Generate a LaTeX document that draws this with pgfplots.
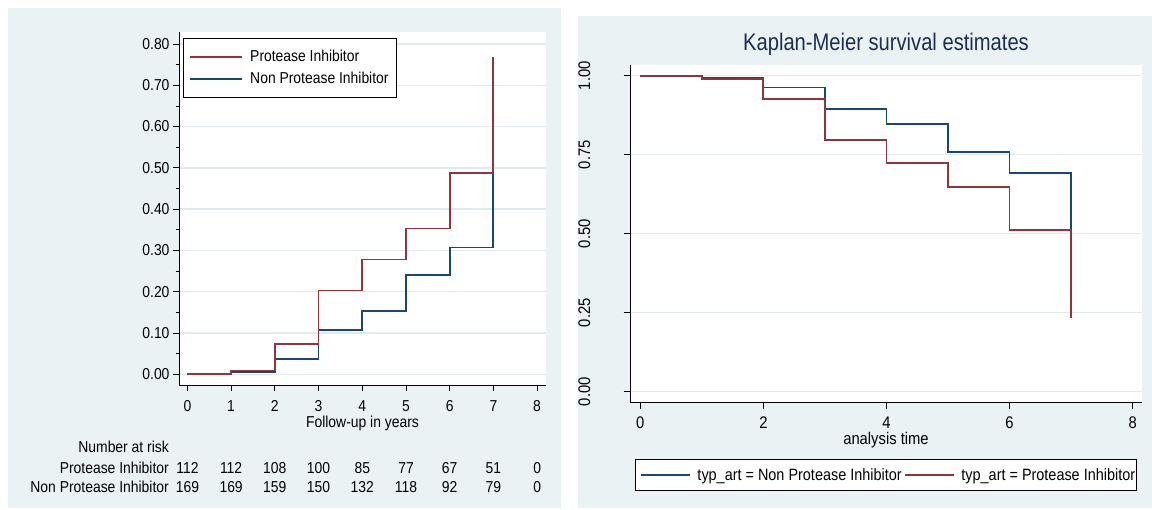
\documentclass[border=0pt]{standalone}
\usepackage{fontspec}
\setmainfont{Liberation Sans}[FakeStretch=0.88]
\newfontfamily\titlefont{Liberation Sans}[FakeStretch=0.84]
\usepackage{pgfplots}
\pgfplotsset{compat=1.18}
\definecolor{bgc}{RGB}{234,242,243}
\definecolor{gridc}{RGB}{224,234,237}
\definecolor{stnavy}{RGB}{26,71,111}
\definecolor{stmaroon}{RGB}{144,53,59}
\definecolor{ttl}{RGB}{30,45,80}
\newcommand{\lf}{\fontsize{15.8bp}{19bp}\selectfont}
\newcommand{\rf}{\fontsize{16.8bp}{20bp}\selectfont}
\newcommand{\rlf}{\fontsize{16.4bp}{20bp}\selectfont}
\begin{document}
\begin{tikzpicture}[x=1bp,y=1bp]
\useasboundingbox (0,0) rectangle (1152,-510);
\fill[white] (0,0) rectangle (1152,-510);
\fill[bgc] (8,-8) rectangle (561,-508);
\fill[bgc] (578,-16) rectangle (1152,-508);

% ---------------- left panel ----------------
\begin{axis}[
  at={(179bp,-385bp)}, anchor=south west,
  scale only axis, width=367bp, height=353bp,
  xmin=-0.192, xmax=8.204, ymin=-0.026, ymax=0.829,
  axis x line=bottom, axis y line=left,
  axis line style={black, line width=0.8bp, -},
  x axis line style={-}, y axis line style={-},
  axis background/.style={fill=white},
  xtick={0,1,2,3,4,5,6,7,8},
  ytick={0,0.1,0.2,0.3,0.4,0.5,0.6,0.7,0.8},
  minor ytick={0.05,0.15,0.25,0.35,0.45,0.55,0.65,0.75},
  tick align=outside, major tick length=6bp, minor tick length=3.5bp,
  every tick/.style={black, line width=0.8bp},
  ymajorgrids, major grid style={gridc, line width=1.5bp},
  /pgf/number format/assume math mode=true,
  yticklabel style={/pgf/number format/fixed, /pgf/number format/fixed zerofill, /pgf/number format/precision=2},
  xticklabel style={yshift=-6bp},
  ticklabel style={font=\lf},
  xlabel={Follow-up in years},
  xlabel style={font=\lf, at={(axis description cs:0.5,-0.1218)}, anchor=base},
  legend style={at={(axis description cs:0.011,0.983)}, anchor=north west,
    draw=black, line width=0.8bp, fill=white, font=\lf,
    inner xsep=6bp, inner ysep=10bp, row sep=5bp},
  legend cell align=left,
  legend image code/.code={\draw[#1, line width=1.8bp] (0bp,0bp) -- (52bp,0bp); \path (57bp,0bp);},
  reverse legend,
]
\addplot[const plot, stnavy, line width=1.8bp] coordinates {
  (0,0) (1,0.006) (2,0.037) (3,0.107) (4,0.154) (5,0.241) (6,0.307) (7,0.515)};
\addlegendentry{Non Protease Inhibitor}
\addplot[const plot, stmaroon, line width=1.8bp] coordinates {
  (0,0) (1,0.009) (2,0.073) (3,0.203) (4,0.278) (5,0.353) (6,0.488) (7,0.769)};
\addlegendentry{Protease Inhibitor}
\end{axis}

% number at risk table
\node[anchor=base east, font=\lf, inner sep=0pt] at (169,-452) {Number at risk};
\node[anchor=base east, font=\lf, inner sep=0pt] at (169,-473) {Protease Inhibitor};
\node[anchor=base east, font=\lf, inner sep=0pt] at (169,-492) {Non Protease Inhibitor};
\foreach \v [count=\i from 0] in {112,112,108,100,85,77,67,51,0}
  \node[anchor=base, font=\lf, inner sep=0pt] at (187.4+43.72*\i,-473) {\v};
\foreach \v [count=\i from 0] in {169,169,159,150,132,118,92,79,0}
  \node[anchor=base, font=\lf, inner sep=0pt] at (187.4+43.72*\i,-492) {\v};

% ---------------- right panel ----------------
\begin{axis}[
  at={(630bp,-402.7bp)}, anchor=south west,
  scale only axis, width=512bp, height=337.7bp,
  xmin=-0.167, xmax=8.152, ymin=-0.0348, ymax=1.0339,
  axis x line=bottom, axis y line=left,
  axis line style={black, line width=0.8bp, -},
  x axis line style={-}, y axis line style={-},
  axis background/.style={fill=white},
  xtick={0,2,4,6,8},
  ytick={0,0.25,0.5,0.75,1},
  tick align=outside, major tick length=6.5bp,
  every tick/.style={black, line width=0.8bp},
  ymajorgrids, major grid style={gridc, line width=1.5bp},
  /pgf/number format/assume math mode=true,
  yticklabel style={/pgf/number format/fixed, /pgf/number format/fixed zerofill, /pgf/number format/precision=2,
    xshift=-33.5bp, rotate=90, anchor=base},
  xticklabel style={yshift=-4bp},
  ticklabel style={font=\rf},
  title={\titlefont Kaplan-Meier survival estimates},
  title style={font=\fontsize{24bp}{28bp}\selectfont, color=ttl, at={(0.5,1)}, anchor=base, yshift=9bp},
  xlabel={analysis time},
  xlabel style={font=\rf, at={(axis description cs:0.5,-0.1232)}, anchor=base},
  legend style={at={(axis description cs:0.5,-0.168)}, anchor=north,
    draw=black, line width=0.8bp, fill=white, font=\rlf,
    inner xsep=4bp, inner ysep=6.5bp},
  legend columns=2,
  legend image code/.code={\draw[#1, line width=1.8bp] (0bp,0bp) -- (49bp,0bp); \path (54bp,0bp);},
]
\addplot[const plot, stnavy, line width=1.8bp] coordinates {
  (0,1) (1,0.993) (2,0.963) (3,0.894) (4,0.846) (5,0.759) (6,0.693) (7,0.485)};
\addlegendentry{typ\_art = Non Protease Inhibitor}
\addplot[const plot, stmaroon, line width=1.8bp] coordinates {
  (0,1) (1,0.990) (2,0.927) (3,0.797) (4,0.723) (5,0.648) (6,0.513) (7,0.232)};
\addlegendentry{typ\_art = Protease Inhibito\rlap{r}}
\end{axis}
\end{tikzpicture}
\end{document}
